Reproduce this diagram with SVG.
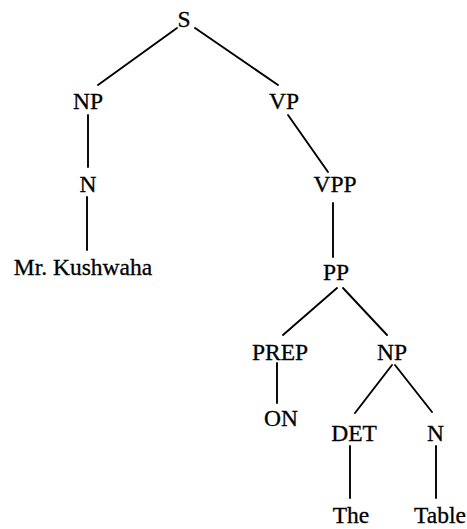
<svg xmlns="http://www.w3.org/2000/svg" width="467" height="529" viewBox="0 0 467 529">
<style>
text{font-family:"Liberation Serif","Times New Roman",serif;font-size:23.5px;fill:#000;stroke:#000;stroke-width:0.3;text-anchor:middle}
.e line{stroke:#000;stroke-width:1.9;stroke-linecap:round}
</style>
<rect width="467" height="529" fill="#fff"/>
<g class="e" id="connectors">
<line x1="177" y1="28" x2="98" y2="85"/>
<line x1="195" y1="28" x2="278" y2="85"/>
<line x1="88" y1="115" x2="88" y2="167"/>
<line x1="87" y1="197" x2="87" y2="250"/>
<line x1="288" y1="115" x2="328" y2="172"/>
<line x1="333" y1="203" x2="333" y2="257"/>
<line x1="337" y1="288" x2="283" y2="335"/>
<line x1="343" y1="288" x2="387" y2="335"/>
<line x1="277" y1="363" x2="277" y2="403"/>
<line x1="392" y1="365" x2="355" y2="413"/>
<line x1="395" y1="365" x2="432" y2="412"/>
<line x1="350" y1="446" x2="350" y2="498"/>
<line x1="436" y1="446" x2="436" y2="498"/>
</g>
<g id="S"><text x="184" y="27">S</text></g>
<g id="NP1"><text x="88" y="109">NP</text></g>
<g id="VP"><text x="284" y="109">VP</text></g>
<g id="N1"><text x="88" y="192">N</text></g>
<g id="VPP"><text x="335" y="192">VPP</text></g>
<g id="MrKushwaha"><text x="83" y="275">Mr. Kushwaha</text></g>
<g id="PP"><text x="336" y="280">PP</text></g>
<g id="PREP"><text x="280" y="360">PREP</text></g>
<g id="NP2"><text x="392" y="360">NP</text></g>
<g id="ON"><text x="281" y="426">ON</text></g>
<g id="DET"><text x="354" y="441">DET</text></g>
<g id="N2"><text x="435.5" y="441">N</text></g>
<g id="The"><text x="351" y="523">The</text></g>
<g id="Table"><text x="440" y="523">Table</text></g>
</svg>
